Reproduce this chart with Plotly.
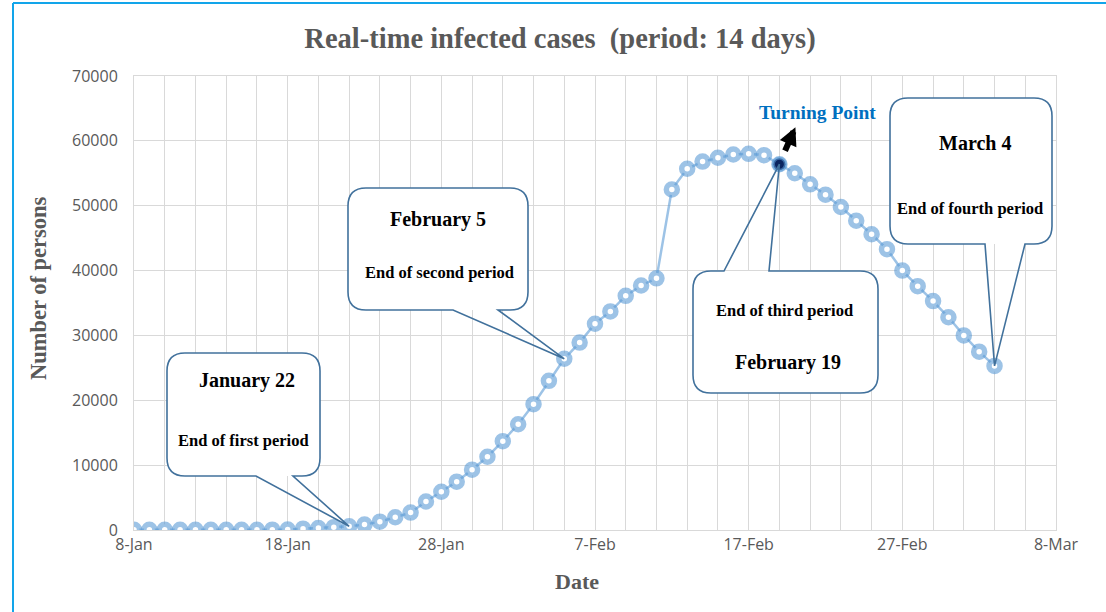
import pandas as pd
import plotly.graph_objects as go

# daily real-time infected cases, 8 Jan - 4 Mar 2020
dates = pd.date_range('2020-01-08', '2020-03-04', freq='D')
cases = [45, 45, 45, 45, 45, 45, 45, 45, 45, 50,
         60, 200, 290, 440, 570, 830, 1290, 1970, 2680, 4400,
         5900, 7450, 9300, 11300,
         13700, 16300, 19400, 23000, 26400, 28900, 31800, 33700, 36100, 37700,
         38800, 52500, 55700, 56800, 57400, 57900, 58000, 57800, 56400, 55000,
         53300, 51700, 49800, 47700, 45600, 43300, 40000, 37600, 35300,
         32800, 30000, 27500, 25300]

period_ends = ['2020-01-22', '2020-02-05', '2020-02-19', '2020-03-04']
callout_titles = ['January 22', 'February 5', 'February 19', 'March 4']
callout_subs = ['End of first period', 'End of second period',
                'End of third period', 'End of fourth period']
turning_point = '2020-02-19'

X_START, X_END = pd.Timestamp('2020-01-08'), pd.Timestamp('2020-03-08')
Y_MAX = 70000

# plot area in pixels
L, T, W, H = 134, 76, 922, 454
FIG_W, FIG_H = 1106, 612


def px_x(d):
    return L + (pd.Timestamp(d) - X_START) / (X_END - X_START) * W


def px_y(v):
    return T + H - v / Y_MAX * H


def pap_x(px):
    return (px - L) / W


def pap_y(py):
    return (T + H - py) / H


def value_at(d):
    return cases[list(dates).index(pd.Timestamp(d))]


def tip_of(d):
    return px_x(d), px_y(value_at(d))


def p(x, y):
    return '{:.5f},{:.5f}'.format(pap_x(x), pap_y(y))


def callout_paths(box, tail, tip, side, r=18):
    x0, y0, x1, y1 = box
    ta, tb = tail
    tx, ty = tip
    top = 'M {} L {} '.format(p(x0 + r, y0), p(x1 - r, y0))
    if side == 'top':
        top = 'M {} L {} L {} L {} L {} '.format(p(x0 + r, y0), p(ta, y0), p(tx, ty), p(tb, y0), p(x1 - r, y0))
    right = 'Q {} {} L {} Q {} {} '.format(p(x1, y0), p(x1, y0 + r), p(x1, y1 - r), p(x1, y1), p(x1 - r, y1))
    bottom = 'L {} '.format(p(x0 + r, y1))
    if side == 'bottom':
        bottom = 'L {} L {} L {} L {} '.format(p(tb, y1), p(tx, ty), p(ta, y1), p(x0 + r, y1))
    left = 'Q {} {} L {} Q {} {} Z'.format(p(x0, y1), p(x0, y1 - r), p(x0, y0 + r), p(x0, y0), p(x0 + r, y0))
    rect = ('M {} L {} '.format(p(x0 + r, y0), p(x1 - r, y0)) + right +
            'L {} '.format(p(x0 + r, y1)) + left)
    return rect, top + right + bottom + left


# callout layout: box (x0, y0, x1, y1), tail base, side, title pos, subtitle pos
callouts = [
    dict(box=(167, 353, 320, 476), tail=(256, 293), side='bottom', t=(247, 380), s=(243, 440)),
    dict(box=(348, 188, 528, 310), tail=(453, 498), side='bottom', t=(438, 219), s=(439, 272)),
    dict(box=(693, 271, 878, 393), tail=(724, 769), side='top', t=(788, 363), s=(784, 310)),
    dict(box=(890, 98, 1052, 244), tail=(985, 1025), side='bottom', t=(975, 143), s=(970, 209)),
]

BLUE = 'rgba(91,155,213,0.6)'
GRID = '#d9d9d9'
GREY = '#595959'
SERIF = 'Liberation Serif'
SANS = 'Open Sans'

fig = go.Figure()
fig.add_trace(go.Scatter(
    x=dates, y=cases, mode='lines+markers',
    line=dict(color=BLUE, width=2.5),
    marker=dict(symbol='circle', size=11, color='white', line=dict(color=BLUE, width=5.5)),
    showlegend=False))
fig.add_trace(go.Scatter(
    x=[pd.Timestamp(turning_point)], y=[value_at(turning_point)], mode='markers',
    marker=dict(size=12, color='#0b2560', line=dict(color=BLUE, width=3)),
    showlegend=False))

shapes = []
annotations = []


def label(text, x, y, size, color='black', **kw):
    annotations.append(dict(text='<b>' + text + '</b>', x=pap_x(x), y=pap_y(y),
                            xref='paper', yref='paper', showarrow=False,
                            xanchor='center', yanchor='middle',
                            font=dict(family=SERIF, size=size, color=color), **kw))


for c, d, title, sub in zip(callouts, period_ends, callout_titles, callout_subs):
    rect, outline = callout_paths(c['box'], c['tail'], tip_of(d), c['side'])
    shapes.append(dict(type='path', path=rect, xref='paper', yref='paper',
                       fillcolor='white', line=dict(width=0)))
    shapes.append(dict(type='path', path=outline, xref='paper', yref='paper',
                       fillcolor='rgba(0,0,0,0)', line=dict(color='#41719c', width=1.6)))
    label(title, c['t'][0], c['t'][1], 20)
    label(sub, c['s'][0], c['s'][1], 16.5)

# turning point arrow and label
tx, ty = tip_of(turning_point)
annotations.append(dict(text='', x=pap_x(tx + 16), y=pap_y(ty - 37), xref='paper', yref='paper',
                        showarrow=True, ax=-11, ay=25, arrowhead=2, arrowsize=0.6,
                        arrowwidth=6, arrowcolor='black'))
label('Turning Point', tx + 38, ty - 52, 19.5, color='#0070c0')

# axis titles
label('Number of persons', 38, 288, 22.5, color=GREY, textangle=-90)
label('Date', 577, 581, 22, color=GREY)

# outer frame (top and left edges visible)
frame = '#12a5ea'
shapes.append(dict(type='line', xref='paper', yref='paper', x0=pap_x(13), x1=pap_x(FIG_W + 5),
                   y0=pap_y(3), y1=pap_y(3), line=dict(color=frame, width=2)))
shapes.append(dict(type='line', xref='paper', yref='paper', x0=pap_x(13), x1=pap_x(13),
                   y0=pap_y(3), y1=pap_y(FIG_H + 5), line=dict(color=frame, width=2)))

DAY = 86400000
fig.update_layout(
    width=FIG_W, height=FIG_H,
    margin=dict(l=L, r=FIG_W - L - W, t=T, b=FIG_H - T - H),
    paper_bgcolor='white', plot_bgcolor='white',
    title=dict(text='<b>Real-time infected cases  (period: 14 days)</b>', x=560 / FIG_W, xref='container',
               y=1 - 38 / FIG_H, yanchor='middle', yref='container',
               font=dict(family=SERIF, size=28.5, color=GREY)),
    xaxis=dict(type='date', range=[X_START, X_END], tick0='2020-01-08', dtick=10 * DAY,
               tickformat='%-d-%b', showgrid=True, gridcolor=GRID, gridwidth=1,
               minor=dict(tick0='2020-01-08', dtick=2 * DAY, showgrid=True, gridcolor=GRID, gridwidth=1),
               showline=True, linecolor=GRID, mirror=True, ticks='',
               tickfont=dict(family=SANS, size=16, color=GREY)),
    yaxis=dict(range=[0, Y_MAX], dtick=10000, tickformat='d', showgrid=True, gridcolor=GRID,
               showline=True, linecolor=GRID, mirror=True, ticks='', ticklabelstandoff=12,
               zeroline=False, tickfont=dict(family=SANS, size=16, color=GREY)),
    shapes=shapes, annotations=annotations,
)

fig.write_html('out.html', config={'displayModeBar': False},
               post_script="document.body.style.margin='0';")
